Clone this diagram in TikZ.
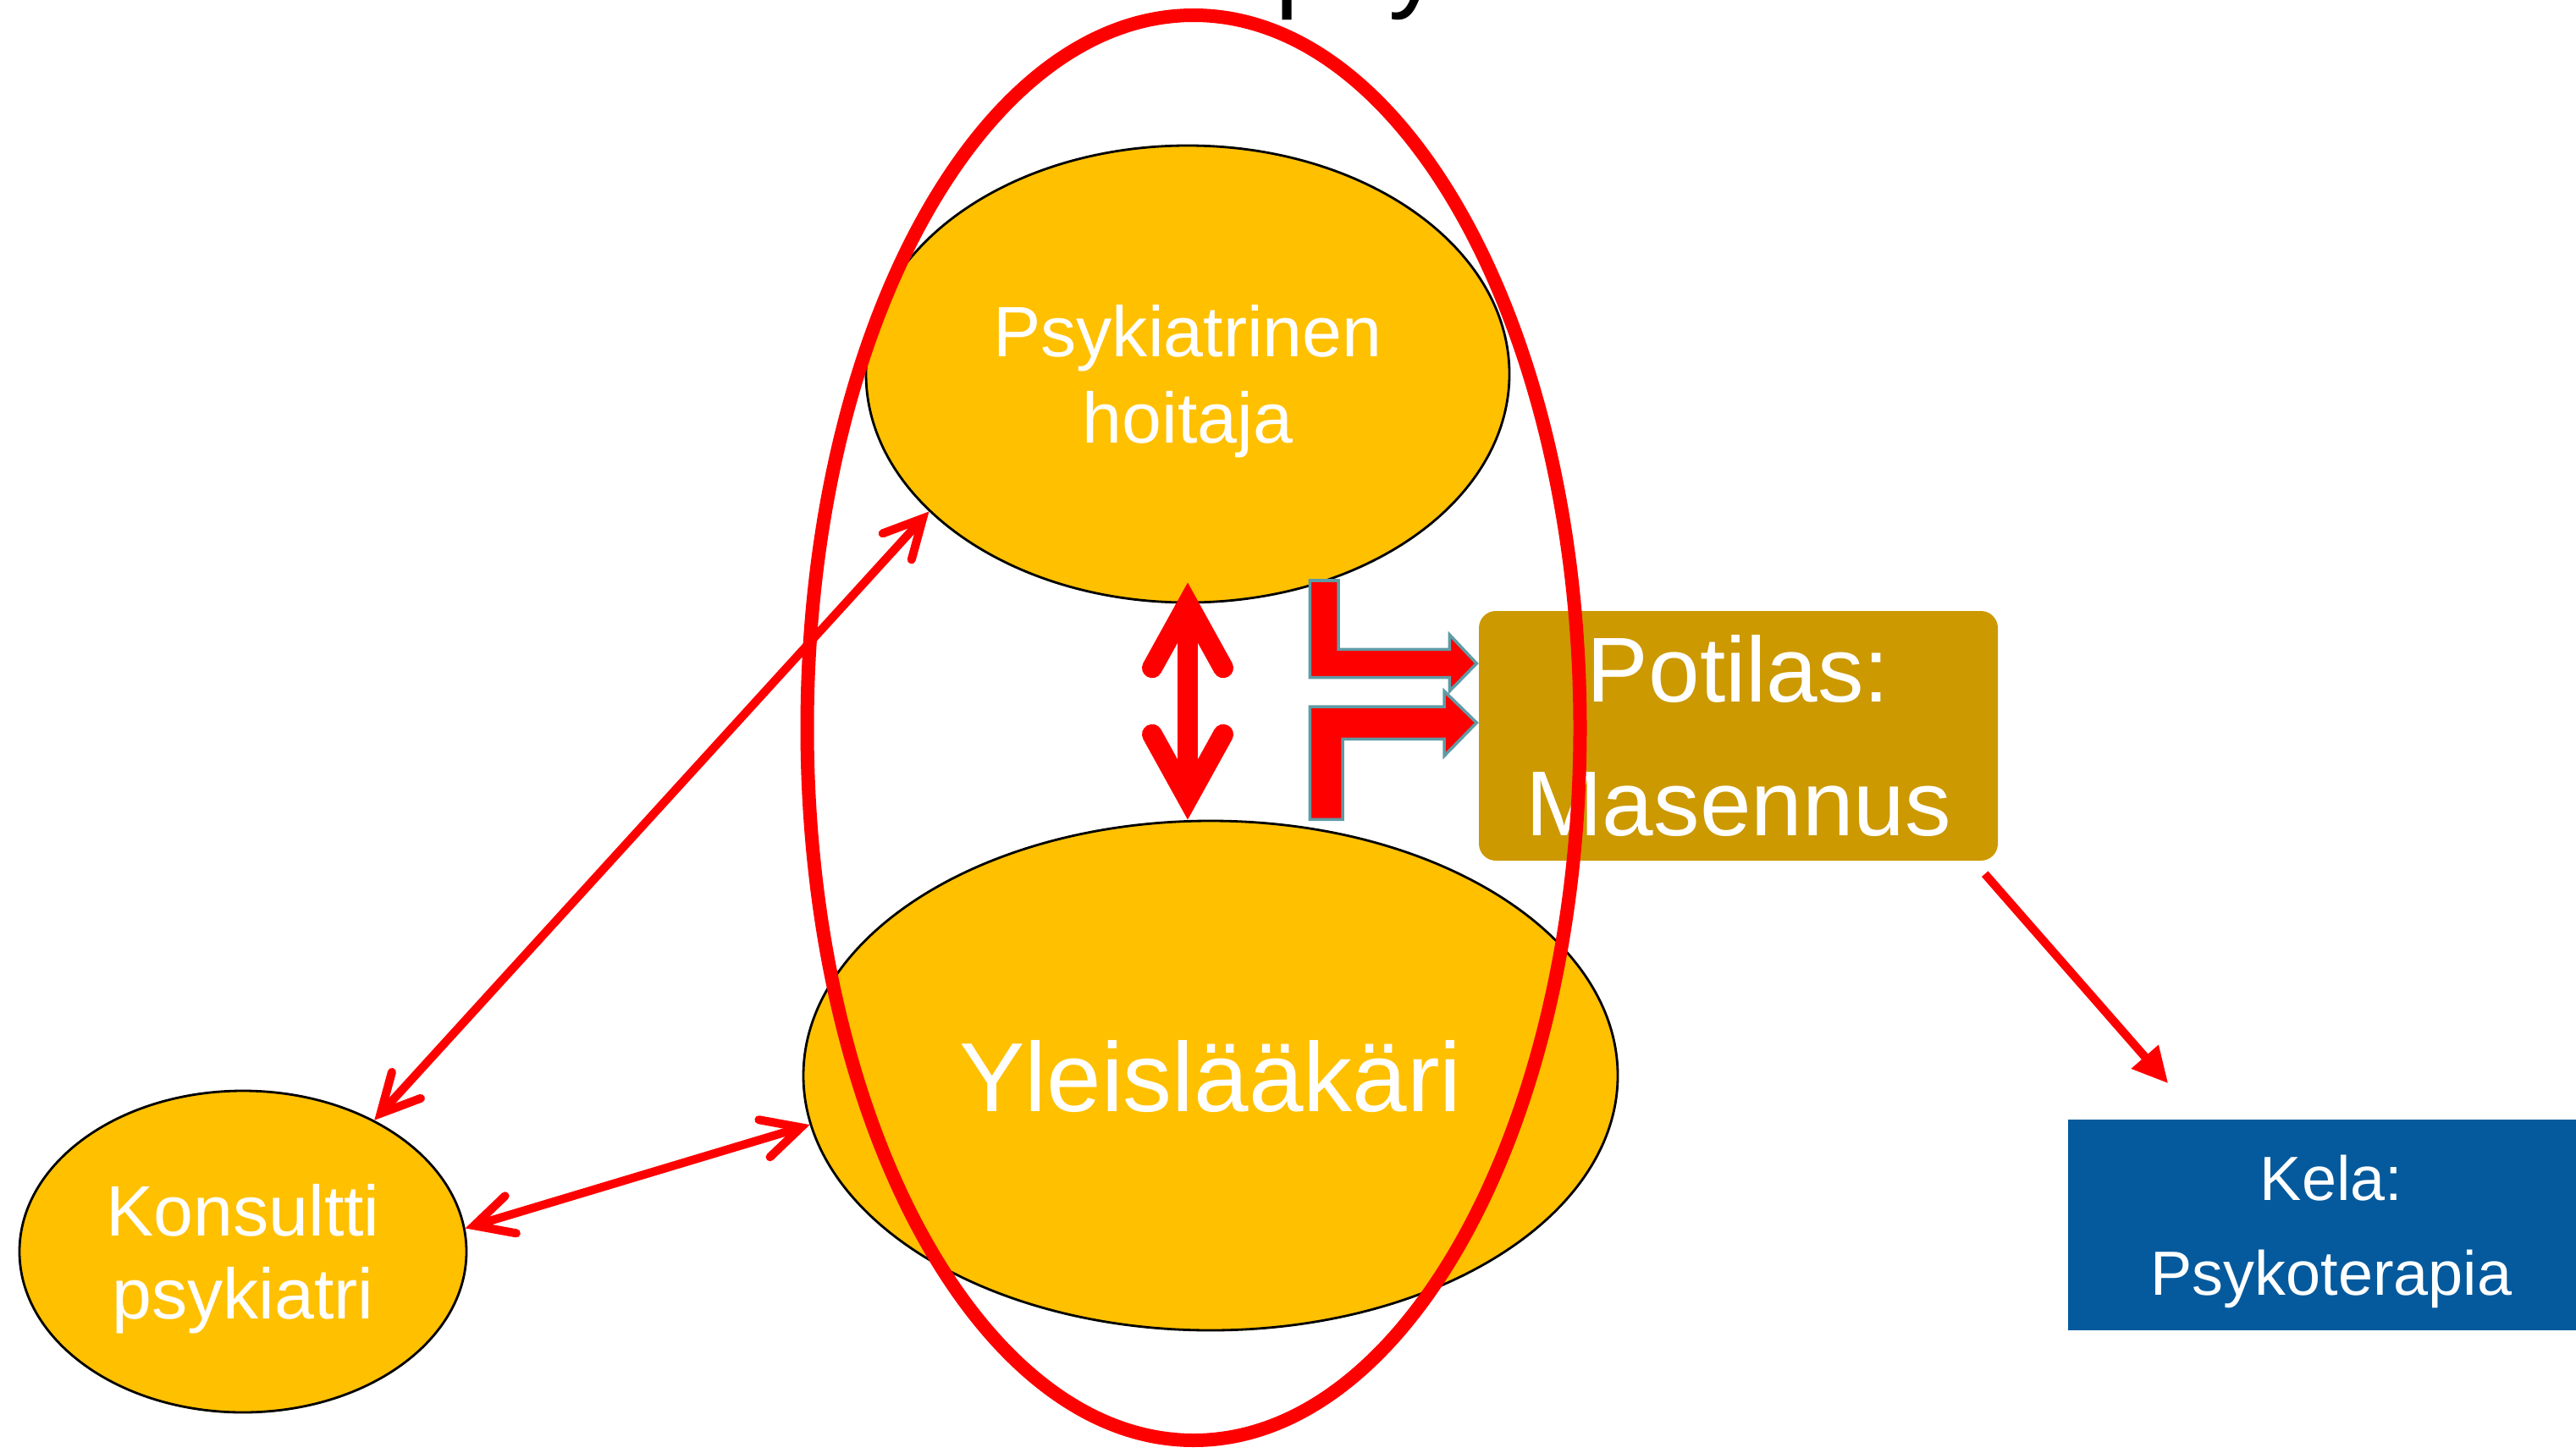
\documentclass[tikz,border=0pt]{standalone}
\usepackage{fontspec}
\setmainfont{Liberation Sans}
\usetikzlibrary{shapes.geometric,arrows.meta}
\definecolor{amber}{RGB}{255,192,0}
\definecolor{potilasgold}{RGB}{204,153,0}
\definecolor{kelablue}{RGB}{4,90,157}
\definecolor{arrowedge}{RGB}{95,155,165}
\begin{document}
\begin{tikzpicture}[
    role/.style={ellipse, draw=black, line width=0.8pt, fill=amber, text=white,
      inner sep=0pt, align=center, text depth=0pt},
    infobox/.style={rectangle, text=white, inner sep=0pt, align=center},
    bentarrow/.style={fill=red, draw=arrowedge, line width=1pt},
    bigarrow/.style={red, line width=0.24cm,
      arrows={Straight Barb[length=0.76cm,width=0.84cm,line cap=round,line join=miter]-Straight Barb[length=0.76cm,width=0.84cm,line cap=round,line join=miter]}},
    thinarrow/.style={red, line width=0.1cm,
      arrows={Straight Barb[length=0.45cm,width=0.46cm,line cap=round,line join=miter]-Straight Barb[length=0.45cm,width=0.46cm,line cap=round,line join=miter]}},
    onearrow/.style={red, line width=0.1cm, arrows={-Triangle[length=0.42cm,width=0.4cm]}}
  ]
  \useasboundingbox (0,0) rectangle (30.43,17.16);
  \clip (0,0) rectangle (30.43,17.16);

  % otsikko, vain alareuna näkyy
  \node[anchor=base, font=\fontsize{36}{43}\selectfont] (title) at (17.32,17.18)
    {Masennuksen psykososiaalinen hoito};

  \node[role, minimum width=7.6cm, minimum height=5.4cm,
    font=\fontsize{24}{28.8}\selectfont] (psyk) at (14.03,12.74) {Psykiatrinen\\hoitaja};
  \node[role, minimum width=9.62cm, minimum height=6.02cm,
    font=\fontsize{33}{40}\selectfont] (yleis) at (14.30,4.45) {Yleislääkäri};
  \node[role, minimum width=5.28cm, minimum height=3.8cm,
    font=\fontsize{24}{28}\selectfont] (konsultti) at (2.87,2.37) {Konsultti\\psykiatri};
  \node[infobox, rounded corners=0.2cm, fill=potilasgold, minimum width=6.13cm,
    minimum height=2.95cm, font=\fontsize{31}{45}\selectfont] (potilas) at (20.535,8.465)
    {Potilas:\\Masennus};
  \node[infobox, fill=kelablue, minimum width=6.22cm, minimum height=2.49cm, text depth=0pt,
    font=\fontsize{21}{32}\selectfont] (kela) at (27.54,2.685) {Kela:\\Psykoterapia};

  % yhteydet
  \draw[bigarrow] ([yshift=0.25cm]psyk.south) -- (psyk.south |- yleis.north);
  \draw[thinarrow] (konsultti.45) -- (psyk.208);
  \draw[thinarrow] (konsultti.6.6) -- (yleis.187);
  \draw[onearrow] ([shift={(-0.16,-0.15)}]potilas.south east)
    -- ([shift={(1.19,0.42)}]kela.north west);

  % taitetut nuolet potilaalle
  \draw[bentarrow] (15.473,10.30) -- (15.81,10.30) -- (15.81,9.487) -- (17.123,9.487)
    -- (17.123,9.66) -- (17.443,9.32) -- (17.123,8.993) -- (17.123,9.153)
    -- (15.473,9.153) -- cycle;
  \draw[bentarrow] (15.473,7.477) -- (15.473,8.81) -- (17.06,8.81) -- (17.06,8.993)
    -- (17.443,8.62) -- (17.06,8.227) -- (17.06,8.427) -- (15.86,8.427)
    -- (15.86,7.477) -- cycle;

  % tiimin rajaus
  \draw[red, line width=0.16cm] (14.10,8.56) ellipse [x radius=4.565, y radius=8.42];
\end{tikzpicture}
\end{document}
